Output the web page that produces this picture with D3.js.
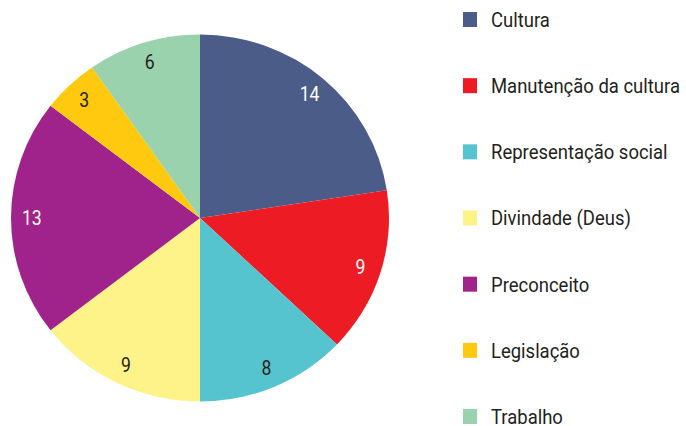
<!DOCTYPE html>
<html>
<head>
<meta charset="utf-8">
<script src="https://cdn.jsdelivr.net/npm/d3@7"></script>
<style>
  body { margin: 0; background: #fff; }
  text { font-family: Roboto, "Noto Sans", sans-serif; }
</style>
</head>
<body>
<svg id="drawing_region"></svg>
<script>
const categories = ['Cultura', 'Manutenção da cultura', 'Representação social', 'Divindade (Deus)', 'Preconceito', 'Legislação', 'Trabalho'];
const values = [14, 9, 8, 9, 13, 3, 6];
const colors = ['#4a5c87', '#ed1c24', '#55c4cf', '#fef388', '#a0238c', '#fec90f', '#9ad2ad'];
const labelColors = ['#ffffff', '#ffffff', '#231f20', '#231f20', '#ffffff', '#231f20', '#231f20'];

const data = categories.map((c, i) => ({ label: c, value: values[i], color: colors[i], text: labelColors[i] }));

const width = 686, height = 426;
const cx = 200, cy = 218, radius = 183.5;
const stretch = 1.03; // the original pie is a little wider than tall
const condense = 0.88;

const svg = d3.select('#drawing_region')
    .attr('width', width)
    .attr('height', height);

const pie = d3.pie()
    .value(d => d.value)
    .sort(null);
const arc = d3.arc()
    .innerRadius(0)
    .outerRadius(radius);
const label_arc = d3.arc()
    .innerRadius(radius * 0.89)
    .outerRadius(radius * 0.89);

const chart = svg.append('g')
    .attr('transform', `translate(${cx}, ${cy})`);

const arcs = pie(data);

chart.append('g')
    .attr('transform', `scale(${stretch}, 1)`)
    .selectAll('path')
    .data(arcs)
    .enter()
    .append('path')
    .attr('d', arc)
    .attr('fill', d => d.data.color);

chart.selectAll('text')
    .data(arcs)
    .enter()
    .append('text')
    .attr('transform', d => {
        const c = label_arc.centroid(d);
        return `translate(${c[0] * stretch}, ${c[1]}) scale(${condense}, 1)`;
    })
    .attr('text-anchor', 'middle')
    .attr('dy', '0.35em')
    .style('font-size', '20px')
    .attr('fill', d => d.data.text)
    .text(d => d.data.value);

// Legend
const legend_y = d3.scalePoint()
    .domain(categories)
    .range([19.5, 416.5]);

const legend = svg.append('g');
const item = legend.selectAll('g')
    .data(data)
    .enter()
    .append('g')
    .attr('transform', d => `translate(463, ${legend_y(d.label)})`);

item.append('rect')
    .attr('x', 0)
    .attr('y', -7.5)
    .attr('width', 14)
    .attr('height', 15)
    .attr('fill', d => d.color);

item.append('text')
    .attr('transform', `translate(28, 0) scale(${condense}, 1)`)
    .attr('dy', '0.35em')
    .style('font-size', '21px')
    .attr('fill', '#231f20')
    .text(d => d.label);
</script>
</body>
</html>
